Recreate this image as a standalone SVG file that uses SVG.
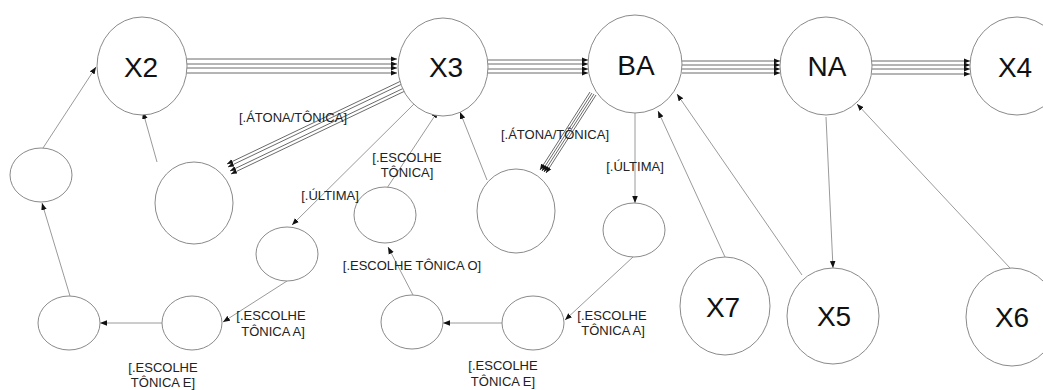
<svg xmlns="http://www.w3.org/2000/svg" width="1043" height="390" viewBox="0 0 1043 390">
<style>
.n{fill:#fff;stroke:#8a8a8a;stroke-width:1}
.big{font-family:"Liberation Sans",Arial,sans-serif;font-size:28px;fill:#111;text-anchor:middle;dominant-baseline:central}
.lb{font-family:"Liberation Sans",Arial,sans-serif;font-size:13px;fill:#222;text-anchor:middle}
.c{stroke:#9a9a9a;stroke-width:1;fill:none;marker-end:url(#ah)}
.m{stroke:#6a6a6a;stroke-width:1;fill:none;marker-end:url(#ah2)}
</style>
<defs>
<marker id="ah" viewBox="0 0 10 10" refX="10" refY="5" markerWidth="7" markerHeight="7" orient="auto" markerUnits="userSpaceOnUse"><path d="M0,1 L10,5 L0,9 z" fill="#111"/></marker>
<marker id="ah2" viewBox="0 0 10 10" refX="10" refY="5" markerWidth="6" markerHeight="6" orient="auto" markerUnits="userSpaceOnUse"><path d="M0,1 L10,5 L0,9 z" fill="#111"/></marker>
</defs>
<rect width="1043" height="390" fill="#fff"/>

<g id="connectors">
<line class="m" x1="187" y1="59" x2="397" y2="59"/>
<line class="m" x1="187" y1="64" x2="397" y2="64"/>
<line class="m" x1="187" y1="68" x2="397" y2="68"/>
<line class="m" x1="187" y1="73" x2="397" y2="73"/>
<line class="m" x1="488" y1="60" x2="588" y2="60"/>
<line class="m" x1="488" y1="64" x2="588" y2="64"/>
<line class="m" x1="488" y1="69" x2="588" y2="69"/>
<line class="m" x1="488" y1="73" x2="588" y2="73"/>
<line class="m" x1="682" y1="61" x2="780" y2="61"/>
<line class="m" x1="682" y1="65" x2="780" y2="65"/>
<line class="m" x1="682" y1="69" x2="780" y2="69"/>
<line class="m" x1="682" y1="73" x2="780" y2="73"/>
<line class="m" x1="872" y1="61" x2="970" y2="61"/>
<line class="m" x1="872" y1="65" x2="970" y2="65"/>
<line class="m" x1="872" y1="69" x2="970" y2="69"/>
<line class="m" x1="872" y1="74" x2="970" y2="74"/>
<line class="m" x1="401" y1="81" x2="227" y2="164"/>
<line class="m" x1="402" y1="84" x2="228" y2="167"/>
<line class="m" x1="404" y1="88" x2="230" y2="171"/>
<line class="m" x1="405" y1="91" x2="231" y2="174"/>
<line class="m" x1="590" y1="92" x2="540" y2="170"/>
<line class="m" x1="592" y1="93" x2="542" y2="171"/>
<line class="m" x1="594" y1="94" x2="544" y2="172"/>
<line class="m" x1="596" y1="95" x2="546" y2="173"/>
<line class="c" x1="43" y1="148" x2="96" y2="67"/>
<line class="c" x1="70" y1="296" x2="42" y2="203"/>
<line class="c" x1="162" y1="323" x2="100" y2="323"/>
<line class="c" x1="287" y1="281" x2="223" y2="322"/>
<line class="c" x1="415" y1="103" x2="292" y2="225"/>
<line class="c" x1="387" y1="188" x2="438" y2="111"/>
<line class="c" x1="413" y1="295" x2="388" y2="247"/>
<line class="c" x1="503" y1="323" x2="443" y2="323"/>
<line class="c" x1="633" y1="257" x2="565" y2="320"/>
<line class="c" x1="635" y1="113" x2="635" y2="203"/>
<line class="c" x1="487" y1="180" x2="460" y2="112"/>
<line class="c" x1="157" y1="162" x2="143" y2="112"/>
<line class="c" x1="725" y1="257" x2="658" y2="111"/>
<line class="c" x1="802" y1="275" x2="677" y2="94"/>
<line class="c" x1="826" y1="117" x2="833" y2="268"/>
<line class="c" x1="1010" y1="268" x2="857" y2="104"/>
</g>

<g id="X2"><ellipse class="n" cx="142" cy="66" rx="45" ry="49"/><text class="big" x="141" y="67">X2</text></g>
<g id="X3"><ellipse class="n" cx="443" cy="67" rx="45" ry="49"/><text class="big" x="446" y="67">X3</text></g>
<g id="BA"><ellipse class="n" cx="635" cy="64" rx="47" ry="49"/><text class="big" x="636" y="65">BA</text></g>
<g id="NA"><ellipse class="n" cx="826" cy="66" rx="46" ry="49"/><text class="big" x="827" y="66">NA</text></g>
<g id="X4"><ellipse class="n" cx="1017" cy="66" rx="47" ry="49"/><text class="big" x="1015" y="67">X4</text></g>
<g id="X7"><ellipse class="n" cx="725" cy="306" rx="45" ry="49"/><text class="big" x="723" y="307">X7</text></g>
<g id="X5"><ellipse class="n" cx="833" cy="316" rx="46" ry="48"/><text class="big" x="834" y="316">X5</text></g>
<g id="X6"><ellipse class="n" cx="1012" cy="317" rx="46" ry="49"/><text class="big" x="1012" y="317">X6</text></g>

<g id="s1"><ellipse class="n" cx="41" cy="175" rx="31" ry="27"/></g>
<g id="s2"><ellipse class="n" cx="194" cy="203" rx="39" ry="41"/></g>
<g id="s3"><ellipse class="n" cx="287" cy="254" rx="31" ry="27"/></g>
<g id="s4"><ellipse class="n" cx="385" cy="215" rx="31" ry="28"/></g>
<g id="s5"><ellipse class="n" cx="516" cy="211" rx="39" ry="42"/></g>
<g id="s6"><ellipse class="n" cx="634" cy="230" rx="31" ry="27"/></g>
<g id="s7"><ellipse class="n" cx="69" cy="323" rx="31" ry="27"/></g>
<g id="s8"><ellipse class="n" cx="192" cy="323" rx="30" ry="27"/></g>
<g id="s9"><ellipse class="n" cx="412" cy="322" rx="31" ry="27"/></g>
<g id="s10"><ellipse class="n" cx="533" cy="323" rx="31" ry="27"/></g>

<g id="labels">
<text class="lb" x="293" y="122">[.ÁTONA/TÔNICA]</text>
<text class="lb" x="555" y="139">[.ÁTONA/TÔNICA]</text>
<text class="lb" x="330" y="200">[.ÚLTIMA]</text>
<text class="lb" x="407" y="162">[.ESCOLHE</text>
<text class="lb" x="407" y="177">TÔNICA]</text>
<text class="lb" x="635" y="171">[.ÚLTIMA]</text>
<text class="lb" x="412" y="270">[.ESCOLHE TÔNICA O]</text>
<text class="lb" x="271" y="320">[.ESCOLHE</text>
<text class="lb" x="273" y="336">TÔNICA A]</text>
<text class="lb" x="163" y="372">[.ESCOLHE</text>
<text class="lb" x="163" y="387">TÔNICA E]</text>
<text class="lb" x="612" y="320">[.ESCOLHE</text>
<text class="lb" x="613" y="335">TÔNICA A]</text>
<text class="lb" x="503" y="370">[.ESCOLHE</text>
<text class="lb" x="503" y="386">TÔNICA E]</text>
</g>
</svg>
